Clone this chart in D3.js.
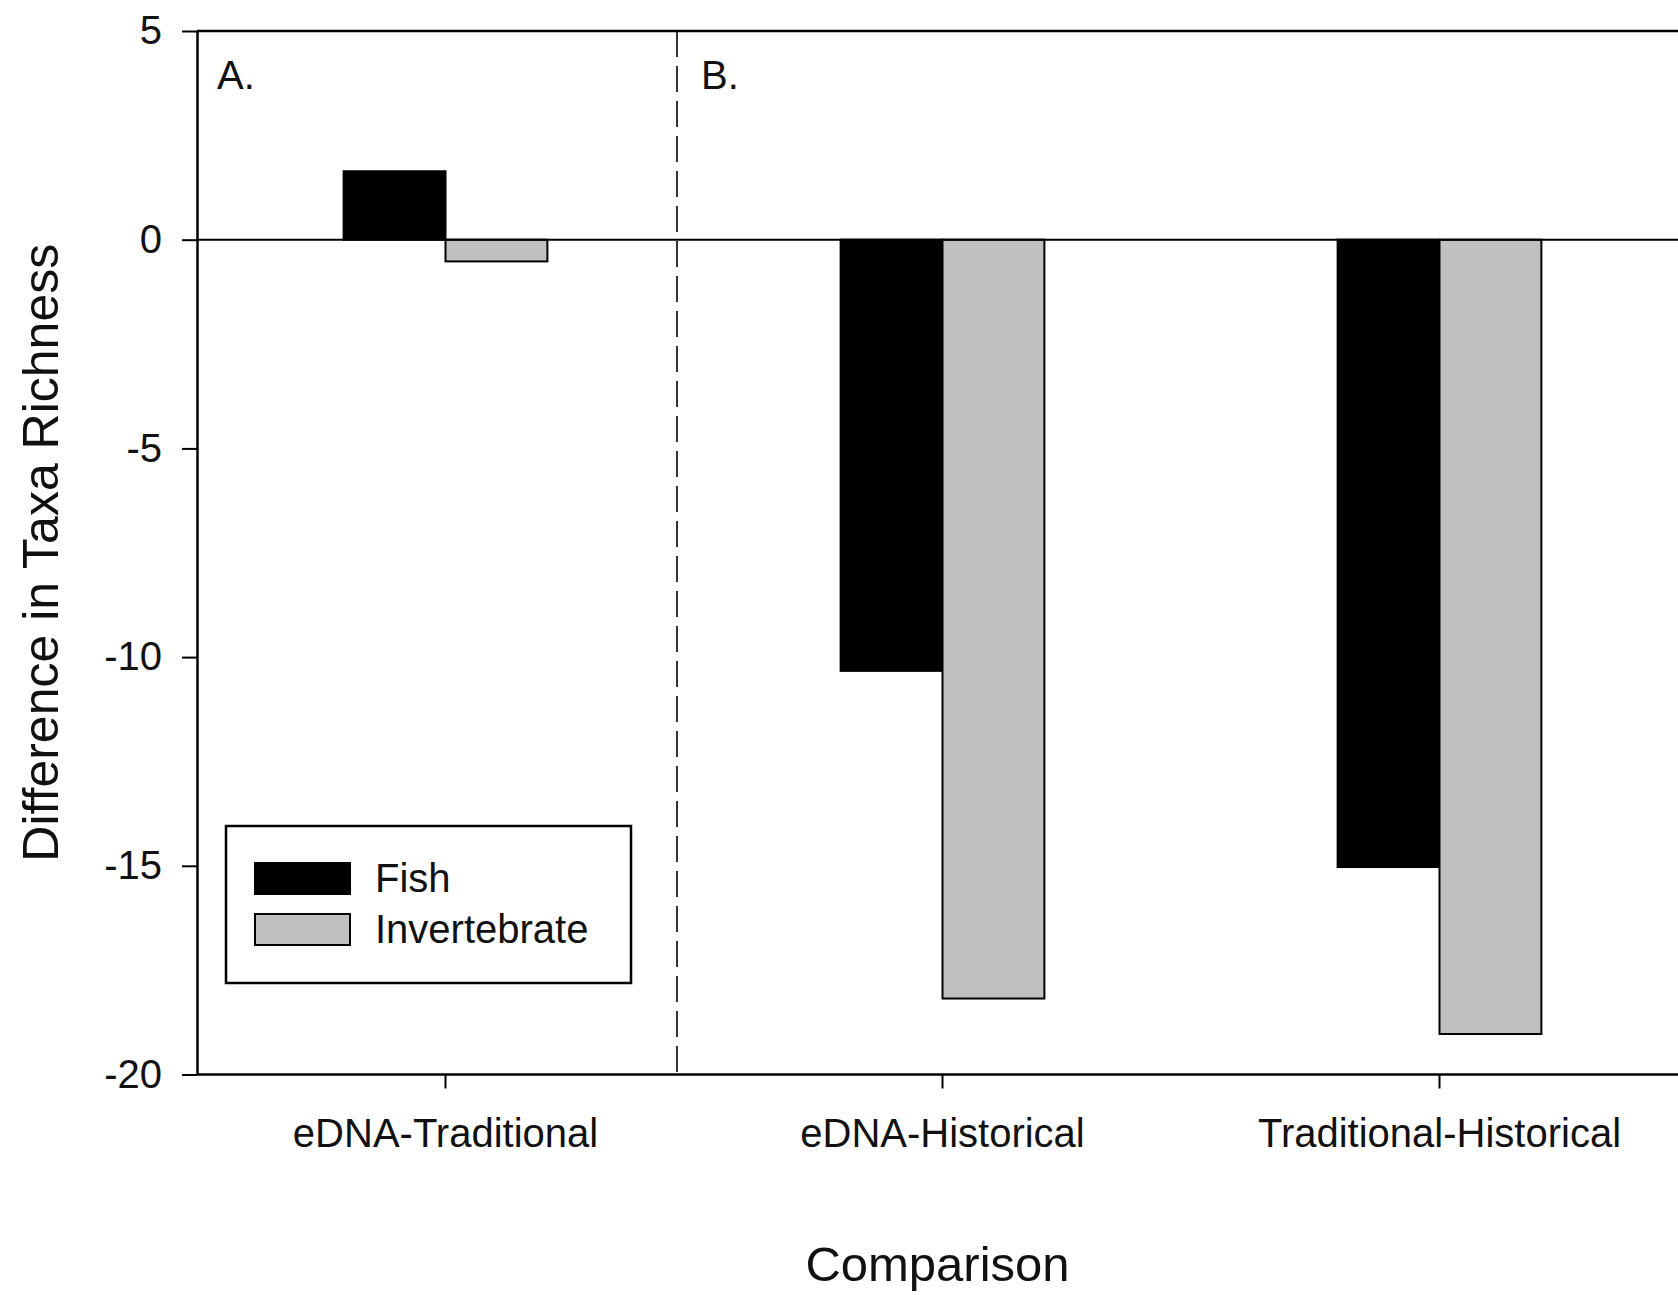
<!DOCTYPE html>
<html>
<head>
<meta charset="utf-8">
<script src="https://cdn.jsdelivr.net/npm/d3@7"></script>
<style>
  body { margin: 0; background: #fff; }
  text { font-family: "Liberation Sans", Arial, sans-serif; fill: #111; }
</style>
</head>
<body>
<script>
const W = 1678, H = 1295;

// data
const comparisons = ['eDNA-Traditional', 'eDNA-Historical', 'Traditional-Historical'];
const series = ['Fish', 'Invertebrate'];
const fishDiff = [1.64, -10.33, -15.03];
const invertDiff = [-0.52, -18.18, -19.03];
const yTicks = [5, 0, -5, -10, -15, -20];
const panelLabels = ['A.', 'B.'];

const colors = {'Fish': '#000000', 'Invertebrate': '#c0c0c0'};

const rows = comparisons.map((c, i) => ({
    comparison: c,
    values: [
        {key: 'Fish', value: fishDiff[i]},
        {key: 'Invertebrate', value: invertDiff[i]}
    ]
}));

// plot frame (right edge runs past the picture)
const plotL = 197, plotT = 31, plotR = 1688, plotB = 1074.5;

let svg = d3.select('body')
    .append('svg')
    .attr('width', W)
    .attr('height', H);

svg.append('rect').attr('width', W).attr('height', H).attr('fill', '#fff');

let x0 = d3.scaleBand()
    .domain(comparisons)
    .range([plotL, plotR])
    .paddingInner(0.59)
    .paddingOuter(0.295);

let x1 = d3.scaleBand()
    .domain(series)
    .range([0, x0.bandwidth()]);

let y = d3.scaleLinear()
    .domain([-20, 5])
    .range([plotB, plotT]);

// bars
let groups = svg.selectAll('g.grp')
    .data(rows)
    .enter()
    .append('g')
    .attr('class', 'grp')
    .attr('transform', d => `translate(${x0(d.comparison)},0)`);

groups.selectAll('rect')
    .data(d => d.values)
    .enter()
    .append('rect')
    .attr('x', d => x1(d.key))
    .attr('width', x1.bandwidth())
    .attr('y', d => y(Math.max(0, d.value)))
    .attr('height', d => Math.abs(y(d.value) - y(0)))
    .attr('fill', d => colors[d.key])
    .attr('stroke', '#000')
    .attr('stroke-width', 2);

// zero line
svg.append('line')
    .attr('x1', plotL).attr('x2', W)
    .attr('y1', y(0)).attr('y2', y(0))
    .attr('stroke', '#000')
    .attr('stroke-width', 2);

// divider between panels A and B
const dividerX = 677;
svg.append('line')
    .attr('x1', dividerX).attr('x2', dividerX)
    .attr('y1', plotT).attr('y2', plotB)
    .attr('stroke', '#333')
    .attr('stroke-width', 2)
    .attr('stroke-dasharray', '26,9');

// top frame line
svg.append('line')
    .attr('x1', plotL).attr('x2', W)
    .attr('y1', plotT).attr('y2', plotT)
    .attr('stroke', '#000')
    .attr('stroke-width', 2.5);

// axes
let yAxis = svg.append('g')
    .attr('transform', `translate(${plotL},0)`)
    .call(d3.axisLeft(y).tickValues(yTicks).tickFormat(d => String(d))
        .tickSize(15).tickSizeOuter(0).tickPadding(20));

let xAxis = svg.append('g')
    .attr('transform', `translate(0,${plotB})`)
    .call(d3.axisBottom(x0).tickSize(14).tickSizeOuter(0).tickPadding(30));

xAxis.select('.domain').attr('d', `M${plotL},0H${W}`);

[yAxis, xAxis].forEach(a => {
    a.select('.domain').attr('stroke', '#000').attr('stroke-width', 2.5);
    a.selectAll('.tick line').attr('stroke', '#000').attr('stroke-width', 2);
    a.selectAll('.tick text')
        .attr('font-size', 40)
        .attr('font-family', '"Liberation Sans", Arial, sans-serif')
        .attr('fill', '#111');
});

// panel letters
svg.selectAll('text.panel')
    .data(panelLabels)
    .enter()
    .append('text')
    .attr('class', 'panel')
    .attr('x', (d, i) => i == 0 ? plotL + 20 : dividerX + 24)
    .attr('y', 89)
    .attr('font-size', 40)
    .text(d => d);

// axis titles
svg.append('text')
    .attr('x', (plotL + plotR) / 2 - 5)
    .attr('y', 1281)
    .attr('text-anchor', 'middle')
    .attr('font-size', 49)
    .text('Comparison');

svg.append('text')
    .attr('transform', `translate(58,${(plotT + plotB) / 2}) rotate(-90)`)
    .attr('text-anchor', 'middle')
    .attr('font-size', 50)
    .text('Difference in Taxa Richness');

// legend
let legend = svg.append('g').attr('transform', 'translate(226,826)');

legend.append('rect')
    .attr('width', 405)
    .attr('height', 157)
    .attr('fill', '#fff')
    .attr('stroke', '#000')
    .attr('stroke-width', 2.5);

let items = legend.selectAll('g.item')
    .data(series)
    .enter()
    .append('g')
    .attr('class', 'item')
    .attr('transform', (d, i) => `translate(29,${37 + i * 51})`);

items.append('rect')
    .attr('width', 95)
    .attr('height', 31)
    .attr('fill', d => colors[d])
    .attr('stroke', '#000')
    .attr('stroke-width', 2);

items.append('text')
    .attr('x', 120)
    .attr('y', 29)
    .attr('font-size', 40)
    .text(d => d);
</script>
</body>
</html>
